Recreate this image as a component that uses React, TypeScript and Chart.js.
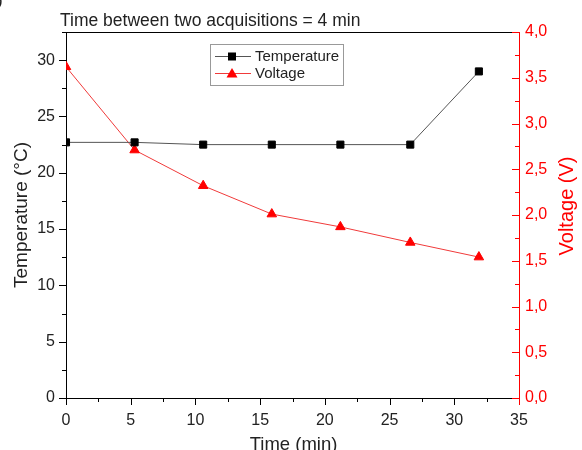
import React, { useEffect, useRef } from 'react';
import { Chart, registerables } from 'chart.js';

Chart.register(...registerables);

const timeMin = [0, 5.3, 10.6, 15.9, 21.2, 26.6, 31.9];
const temperatureC = [22.7, 22.7, 22.5, 22.5, 22.5, 22.5, 29.0];
const voltageV = [3.62, 2.71, 2.32, 2.01, 1.87, 1.7, 1.54];

const chartTitle = 'Time between two acquisitions = 4 min';
const xTitle = 'Time (min)';
const yLeftTitle = 'Temperature (°C)';
const yRightTitle = 'Voltage (V)';
const seriesNames = ['Temperature', 'Voltage'];

const FONT = "'Liberation Sans', Arial, Helvetica, sans-serif";
const RED = '#ff0000';

const decorPlugin = {
  id: 'decor',
  afterDraw(chart: any) {
    const ctx = chart.ctx as CanvasRenderingContext2D;
    const ca = chart.chartArea;
    const xs = chart.scales.x;
    const yl = chart.scales.y;
    const yr = chart.scales.y1;
    const crisp = (v: number) => Math.round(v) + 0.5;
    ctx.save();
    ctx.lineWidth = 1;

    // top frame line
    ctx.strokeStyle = '#000';
    ctx.beginPath();
    ctx.moveTo(ca.left, crisp(ca.top));
    ctx.lineTo(ca.right, crisp(ca.top));
    ctx.stroke();

    // left axis ticks (outward)
    for (let v = 0; v <= 32.5 + 1e-6; v += 2.5) {
      const py = crisp(yl.getPixelForValue(v));
      const len = Math.abs(v % 5) < 1e-6 ? 7 : 4;
      ctx.beginPath();
      ctx.moveTo(ca.left - len, py);
      ctx.lineTo(ca.left, py);
      ctx.stroke();
    }
    // bottom axis ticks (outward)
    for (let v = 0; v <= 35 + 1e-6; v += 2.5) {
      const px = crisp(xs.getPixelForValue(v));
      const len = Math.abs(v % 5) < 1e-6 ? 7 : 4;
      ctx.beginPath();
      ctx.moveTo(px, ca.bottom);
      ctx.lineTo(px, ca.bottom + len);
      ctx.stroke();
    }
    // right axis ticks (inward, red)
    ctx.strokeStyle = RED;
    for (let v = 0; v <= 4 + 1e-6; v += 0.25) {
      const py = crisp(yr.getPixelForValue(v));
      const len = Math.abs(v % 0.5) < 1e-6 ? 7 : 4;
      ctx.beginPath();
      ctx.moveTo(ca.right - len, py);
      ctx.lineTo(ca.right, py);
      ctx.stroke();
    }
    ctx.beginPath();
    ctx.moveTo(crisp(ca.right - 0.5), ca.bottom);
    ctx.lineTo(crisp(ca.right - 0.5), ca.bottom + 7);
    ctx.stroke();

    // chart title
    ctx.fillStyle = '#222';
    ctx.font = `17.5px ${FONT}`;
    ctx.textAlign = 'left';
    ctx.textBaseline = 'alphabetic';
    ctx.fillText(chartTitle, 60, 26);

    // cut-off panel label remnant
    ctx.font = `17px ${FONT}`;
    ctx.fillText(')', -3, 6);

    // x title
    ctx.font = `18.5px ${FONT}`;
    ctx.textAlign = 'center';
    ctx.fillText(xTitle, (ca.left + ca.right) / 2 + 1, 450);

    // left title
    ctx.save();
    ctx.translate(22, (ca.top + ca.bottom) / 2);
    ctx.rotate(-Math.PI / 2);
    ctx.font = `19px ${FONT}`;
    ctx.textAlign = 'center';
    ctx.textBaseline = 'middle';
    ctx.fillStyle = '#222';
    ctx.fillText(yLeftTitle, 0, 0);
    ctx.restore();

    // right title
    ctx.save();
    ctx.translate(567, 206);
    ctx.rotate(-Math.PI / 2);
    ctx.font = `20px ${FONT}`;
    ctx.textAlign = 'center';
    ctx.textBaseline = 'middle';
    ctx.fillStyle = RED;
    ctx.fillText(yRightTitle, 0, 0);
    ctx.restore();

    // legend
    const bx = 210.5, by = 44.5, bw = 133, bh = 41;
    ctx.strokeStyle = '#999';
    ctx.lineWidth = 1;
    ctx.strokeRect(bx, by, bw, bh);
    const ds = chart.data.datasets;
    const rows = [56, 73];
    ds.forEach((d: any, i: number) => {
      const cy = rows[i];
      ctx.strokeStyle = d.borderColor;
      ctx.lineWidth = 1;
      ctx.beginPath();
      ctx.moveTo(215, cy + 0.5);
      ctx.lineTo(251, cy + 0.5);
      ctx.stroke();
      ctx.fillStyle = d.pointBackgroundColor;
      if (d.pointStyle === 'rect') {
        ctx.fillRect(228, cy - 3.5, 8, 8);
      } else {
        ctx.beginPath();
        ctx.moveTo(232, cy - 5);
        ctx.lineTo(237.5, cy + 4.5);
        ctx.lineTo(226.5, cy + 4.5);
        ctx.closePath();
        ctx.fill();
      }
      ctx.fillStyle = '#222';
      ctx.font = `15px ${FONT}`;
      ctx.textAlign = 'left';
      ctx.textBaseline = 'middle';
      ctx.fillText(d.label, 255, cy + 1);
    });
    ctx.restore();
  },
};

export default function App() {
  const ref = useRef<HTMLCanvasElement | null>(null);

  useEffect(() => {
    if (!ref.current) return;
    const chart = new Chart(ref.current, {
      type: 'scatter',
      data: {
        datasets: [
          {
            label: seriesNames[0],
            data: timeMin.map((t, i) => ({ x: t, y: temperatureC[i] })),
            yAxisID: 'y',
            showLine: true,
            borderColor: '#555',
            borderWidth: 1,
            pointStyle: 'rect',
            pointRadius: 5,
            pointBackgroundColor: '#000',
            pointBorderColor: '#000',
            pointBorderWidth: 1,
          },
          {
            label: seriesNames[1],
            data: timeMin.map((t, i) => ({ x: t, y: voltageV[i] })),
            yAxisID: 'y1',
            showLine: true,
            borderColor: '#f03a3a',
            borderWidth: 1,
            pointStyle: 'triangle',
            pointRadius: 5.5,
            pointBackgroundColor: RED,
            pointBorderColor: RED,
            pointBorderWidth: 1,
          },
        ],
      },
      options: {
        animation: false,
        responsive: false,
        layout: { padding: { top: 32, left: 0, right: 0, bottom: 0 } },
        plugins: {
          legend: { display: false },
          title: { display: false },
          tooltip: { enabled: false },
        },
        scales: {
          x: {
            type: 'linear',
            position: 'bottom',
            min: 0,
            max: 35,
            ticks: {
              stepSize: 5,
              padding: 13,
              color: '#222',
              font: { family: FONT, size: 16 },
              maxRotation: 0,
            },
            grid: { display: false, drawTicks: false },
            border: { display: true, color: '#000', width: 1 },
            afterFit: (s: any) => {
              s.height = 52;
            },
          },
          y: {
            type: 'linear',
            position: 'left',
            min: 0,
            max: 32.5,
            ticks: {
              stepSize: 5,
              includeBounds: false,
              padding: 11,
              color: '#222',
              font: { family: FONT, size: 16 },
            },
            grid: { display: false, drawTicks: false },
            border: { display: true, color: '#000', width: 1 },
            afterFit: (s: any) => {
              s.width = 66;
            },
          },
          y1: {
            type: 'linear',
            position: 'right',
            min: 0,
            max: 4,
            ticks: {
              stepSize: 0.5,
              padding: 6,
              color: RED,
              font: { family: FONT, size: 16 },
              callback: (v: any) => Number(v).toFixed(1).replace('.', ','),
            },
            grid: { display: false, drawTicks: false },
            border: { display: true, color: RED, width: 1 },
            afterFit: (s: any) => {
              s.width = 63;
            },
          },
        },
      },
      plugins: [decorPlugin],
    } as any);
    return () => chart.destroy();
  }, []);

  return (
    <div style={{ position: 'fixed', left: 0, top: 0, width: 582, height: 450, background: '#fff' }}>
      <canvas ref={ref} width={582} height={450} style={{ display: 'block' }} />
    </div>
  );
}
